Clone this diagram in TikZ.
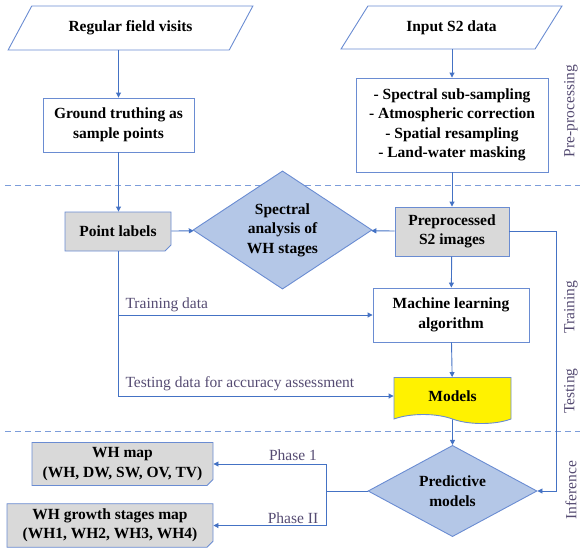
\documentclass[tikz,border=0pt]{standalone}
\usepackage{fontspec}
\setmainfont{Liberation Serif}
\usepackage{tikz}
\usetikzlibrary{positioning,arrows.meta,calc,shapes.geometric,shapes.misc,shapes.symbols}
\definecolor{flow}{HTML}{4472C4}
\definecolor{edge}{HTML}{6A8CD2}
\definecolor{sepcol}{HTML}{7C9DDA}
\definecolor{diafill}{HTML}{B4C7E7}
\definecolor{docfill}{HTML}{D9D9D9}
\definecolor{note}{HTML}{554B72}

\begin{document}
\begin{tikzpicture}[x=1pt, y=-1pt,
  every node/.style={font=\fontsize{15.5}{19.5}\selectfont\bfseries, align=center},
  inout/.style={trapezium, trapezium left angle=44, trapezium right angle=136,
    trapezium stretches=true, draw=edge, line width=0.9pt, inner sep=0pt},
  plainbox/.style={rectangle, draw=edge, line width=0.9pt, fill=white, inner sep=2pt},
  graybox/.style={rectangle, draw=edge, line width=0.9pt, fill=docfill, inner sep=2pt},
  doc/.style={chamfered rectangle, chamfered rectangle corners=south east,
    chamfered rectangle xsep=3pt, chamfered rectangle ysep=3pt,
    draw=edge, line width=0.9pt, fill=docfill, inner sep=2pt},
  decision/.style={diamond, draw=edge, line width=0.9pt, fill=diafill, inner xsep=0pt, inner ysep=-3pt},
  output/.style={tape, tape bend top=none, tape bend bottom=out and in,
    tape bend height=9pt, draw=edge, line width=0.9pt, fill=yellow, inner sep=2pt},
  flowline/.style={flow, line width=0.9pt, -{Triangle[length=5pt,width=5pt]}},
  plainline/.style={flow, line width=0.9pt},
  sepline/.style={sepcol, line width=1pt, dash pattern=on 6pt off 4pt},
  notelbl/.style={font=\fontsize{15.5}{19}\selectfont\mdseries, text=note},
  side/.style={notelbl, rotate=90}]
  \useasboundingbox (0,0) rectangle (580,549);

  % phase separators
  \draw[sepline] (5,185) -- (580,185);
  \draw[sepline] (5,431) -- (580,431);

  % inputs and pre-processing
  \node[inout, minimum width=245, minimum height=44] (visits) at (130.5,28) {Regular field visits};
  \node[plainbox, minimum width=151, minimum height=54] (ground) at (118.5,125) {Ground truthing as\\sample points};
  \node[inout, minimum width=221, minimum height=43] (s2in) at (451.5,27.5) {Input S2 data};
  \node[plainbox, minimum width=192, minimum height=94] (prep) at (452,125)
    {- Spectral sub-sampling\\- Atmospheric correction\\- Spatial resampling\\- Land-water masking};

  % training and testing
  \node[doc, minimum width=106, minimum height=39] (points) at (118,231.5) {Point labels};
  \node[decision, minimum width=179, minimum height=78] (spectral) at (282.5,230) {Spectral\\analysis of\\WH stages};
  \node[graybox, minimum width=114, minimum height=49] (s2img) at (452,231.5) {Preprocessed\\S2 images};
  \node[plainbox, minimum width=156, minimum height=54] (ml) at (451,315) {Machine learning\\algorithm};
  \node[output, minimum width=117, minimum height=46] (models) at (452.5,396) {Models};

  % inference
  \node[decision, minimum width=169, minimum height=76] (predict) at (452.5,491) {Predictive\\models};
  \node[doc, minimum width=181, minimum height=42] (whmap) at (122.5,464) {WH map\\(WH, DW, SW, OV, TV)};
  \node[doc, minimum width=206, minimum height=43] (whstage) at (110,525.5) {WH growth stages map\\(WH1, WH2, WH3, WH4)};

  \coordinate (rail) at (556,0);
  \coordinate (fork) at (326,491);

  % connectors
  \draw[flowline] (ground.north |- visits.south) -- (ground.north);
  \draw[flowline] (ground.south) -- (ground.south |- points.north);
  \draw[flowline] (prep.north |- s2in.south) -- (prep.north);
  \draw[flowline] (prep) -- (s2img);
  \draw[flowline] (points) -- (spectral);
  \draw[flowline] (s2img) -- (spectral);
  \draw[flowline] (s2img) -- (ml);
  \draw[flowline] (ml) -- (models);
  \draw[flowline] (models) -- (predict);
  \draw[flowline] (points.south) |- (ml.west);
  \draw[flowline] (points.south) |- (models.west);
  \draw[flowline] (s2img.east) -| (rail |- predict.east) -- (predict.east);
  \draw[plainline] (predict.west) -- (fork);
  \draw[flowline] (fork) |- (whmap.east);
  \draw[flowline] (fork) |- (whstage.east);

  % edge labels
  \node[notelbl, anchor=west] (trainlbl) at (122,305) {Training data};
  \node[notelbl, anchor=west] (testlbl) at (122,384) {Testing data for accuracy assessment};
  \node[notelbl] (phase1) at (293,455) {Phase 1};
  \node[notelbl] (phase2) at (293,518) {Phase II};

  % stage names
  \node[side] (prelbl) at (571,111) {Pre-processing};
  \node[side] (trainside) at (571,307) {Training};
  \node[side] (testside) at (571,391) {Testing};
  \node[side] (infside) at (571,490) {Inference};
\end{tikzpicture}
\end{document}
